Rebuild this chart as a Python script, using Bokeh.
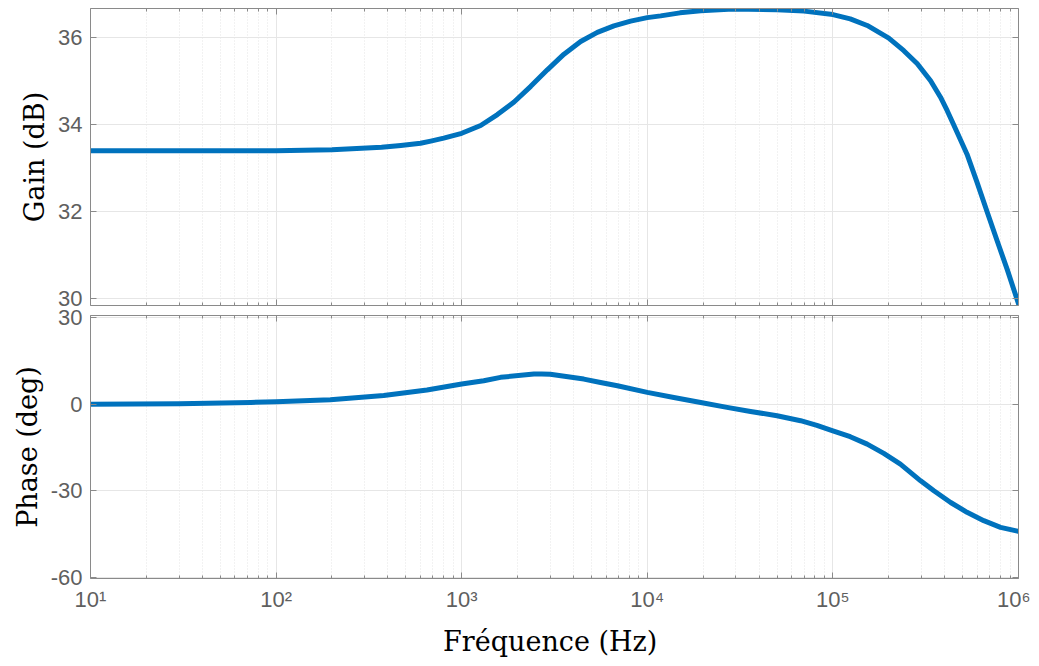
from bokeh.plotting import figure
from bokeh.models import Range1d, FixedTicker, LinearAxis, LogAxis
from bokeh.layouts import column
from bokeh.embed import file_html
from bokeh.resources import INLINE

# ---- data ----
freq_gain = [10, 30, 100, 200, 370, 470, 600, 681, 800, 1000, 1265, 1557, 1915, 2355,
             2893, 3557, 4375, 5380, 6610, 8130, 10000, 11800, 15000, 19400, 29000,
             50000, 70000, 100000, 124000, 153000, 200000, 241000, 285000, 336000, 380000,
             413000, 448000, 528000, 598000, 678000, 767000, 869000, 1000000]
gain_db = [33.40, 33.40, 33.40, 33.42, 33.48, 33.52, 33.57, 33.62, 33.69, 33.80, 33.98,
           34.23, 34.52, 34.88, 35.26, 35.62, 35.91, 36.12, 36.27, 36.38, 36.46, 36.50,
           36.57, 36.62, 36.66, 36.64, 36.61, 36.53, 36.43, 36.28, 35.99, 35.70, 35.40,
           35.01, 34.63, 34.32, 33.99, 33.32, 32.67, 31.99, 31.33, 30.67, 29.88]

freq_phase = [10, 30, 73, 100, 196, 380, 650, 1000, 1315, 1620, 2450, 2700, 3000, 4550,
              5600, 6900, 10000, 13900, 19400, 26900, 36000, 50000, 67000, 82000, 100000,
              124000, 153000, 188000, 231000, 297000, 350000, 431000, 528000, 650000,
              800000, 1000000]
phase_deg = [0.0, 0.15, 0.62, 0.87, 1.56, 3.05, 4.9, 7.0, 8.1, 9.3, 10.45, 10.5, 10.35,
             8.7, 7.5, 6.4, 4.1, 2.35, 0.6, -1.1, -2.5, -4.0, -5.7, -7.3, -9.2, -11.25,
             -13.8, -17.0, -20.7, -26.5, -29.95, -34.0, -37.4, -40.3, -42.6, -44.0]

x_ticks = [10, 100, 1000, 10000, 100000, 1000000]
x_tick_labels = ["10¹", "10²", "10³", "10⁴", "10⁵", "10⁶"]
gain_ticks = [30, 32, 34, 36]
gain_tick_labels = ["30", "32", "34", "36"]
phase_ticks = [-60, -30, 0, 30]
phase_tick_labels = ["-60", "-30", "0", "30"]

gain_label = "Gain (dB)"
phase_label = "Phase (deg)"
x_label = "Fréquence  (Hz)"

LINE_COLOR = "#0072BD"
AX_COLOR = "#8a8a8a"
TICK_LABEL_COLOR = "#5f5f5f"
GRID_COLOR = "#e6e6e6"

minor_x = [m * 10 ** d for d in range(1, 6) for m in range(2, 10)]


def style_axis(ax, show_labels):
    ax.axis_line_color = AX_COLOR
    ax.major_tick_line_color = AX_COLOR
    ax.minor_tick_line_color = AX_COLOR
    ax.major_tick_in = 6
    ax.major_tick_out = 0
    ax.minor_tick_in = 3
    ax.minor_tick_out = 0
    ax.major_label_text_font = "Liberation Sans"
    ax.axis_label_text_font = "DejaVu Serif"
    ax.axis_label_text_font_style = "normal"
    ax.axis_label_text_font_size = "27px"
    ax.axis_label_text_color = "#000000"
    if show_labels:
        ax.major_label_text_color = TICK_LABEL_COLOR
        ax.major_label_text_font_size = "22px"
        ax.major_label_standoff = 8
    else:
        ax.major_label_text_color = None
        ax.major_label_text_font_size = "1px"
        ax.major_label_standoff = 0


def make_fig(y_lo, y_hi, yticks, ylabels, ylabel, fh, btop, bbottom, show_x):
    p = figure(x_axis_type="log", x_range=Range1d(10, 1e6), y_range=Range1d(y_lo, y_hi),
               frame_width=928, frame_height=fh,
               min_border_left=90, min_border_right=12,
               min_border_top=btop, min_border_bottom=bbottom,
               output_backend="svg", toolbar_location=None)
    p.outline_line_color = None
    p.xaxis.ticker = FixedTicker(ticks=x_ticks, minor_ticks=minor_x)
    p.yaxis.ticker = FixedTicker(ticks=yticks, minor_ticks=[])
    for ax in p.xaxis:
        style_axis(ax, show_x)
        if show_x:
            ax.major_label_overrides = {t: l for t, l in zip(x_ticks, x_tick_labels)}
            ax.axis_label = x_label
            ax.axis_label_standoff = 11
    for ax in p.yaxis:
        style_axis(ax, True)
        ax.major_label_overrides = {t: l for t, l in zip(yticks, ylabels)}
        ax.axis_label = ylabel
        ax.axis_label_standoff = 5
    top = LogAxis(ticker=FixedTicker(ticks=x_ticks, minor_ticks=minor_x))
    style_axis(top, False)
    p.add_layout(top, "above")
    right = LinearAxis(ticker=FixedTicker(ticks=yticks, minor_ticks=[]))
    style_axis(right, False)
    p.add_layout(right, "right")

    p.xgrid.grid_line_color = GRID_COLOR
    p.xgrid.minor_grid_line_color = "#e4e4e4"
    p.xgrid.minor_grid_line_dash = "1 2"
    p.ygrid.grid_line_color = GRID_COLOR
    return p


p1 = make_fig(29.84, 36.67, gain_ticks, gain_tick_labels, gain_label, 297, 8, 12, False)
p1.line(freq_gain, gain_db, line_width=5, color=LINE_COLOR, line_cap="round", line_join="round")

p2 = make_fig(-60.3, 30.7, phase_ticks, phase_tick_labels, phase_label, 263, 12, 85, True)
p2.line(freq_phase, phase_deg, line_width=5, color=LINE_COLOR, line_cap="round", line_join="round")
p2.border_fill_color = None
p2.margin = (-14, 0, 0, 0)

layout = column(p1, p2)
open("out.html", "w").write(file_html(layout, INLINE))
